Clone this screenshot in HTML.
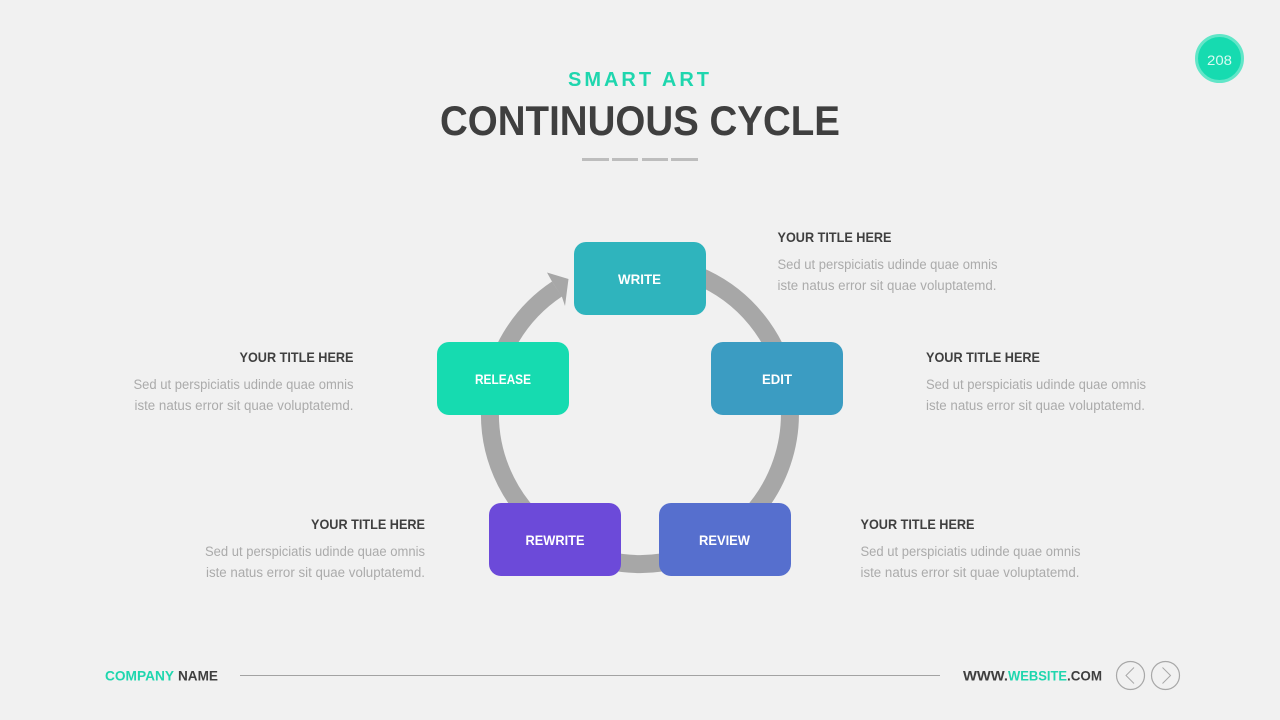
<!DOCTYPE html>
<html lang="en">
<head>
<meta charset="utf-8">
<title>Continuous Cycle</title>
<style>
html,body{margin:0;padding:0;background:#f1f1f1;width:1280px;height:720px;overflow:hidden}
svg{display:block}
text{font-family:"Liberation Sans",sans-serif}
.h{font-size:14px;font-weight:bold;fill:#3f3f3f}
.b{font-size:13.5px;fill:#ababab}
.n{font-size:14px;font-weight:bold;fill:#fff}
.f{font-size:14px;font-weight:bold;fill:#3f3f3f}
.g{fill:#1fd6ae}
</style>
</head>
<body>
<svg width="1280" height="720" viewBox="0 0 1280 720" xmlns="http://www.w3.org/2000/svg">
<rect width="1280" height="720" fill="#f1f1f1"/>

<circle cx="1219.5" cy="58.5" r="23" fill="#16dbb0" stroke="#62e6c8" stroke-width="3"/>
<text x="1219.5" y="65" text-anchor="middle" font-size="14" fill="#d8fbf2" textLength="25" lengthAdjust="spacingAndGlyphs">208</text>

<text x="568" y="86" font-size="20" font-weight="bold" class="g" textLength="141" lengthAdjust="spacing">SMART ART</text>
<text x="440" y="135" font-size="42" font-weight="bold" fill="#3f3f3f" textLength="400" lengthAdjust="spacingAndGlyphs">CONTINUOUS CYCLE</text>
<g fill="#bdbdbd">
<rect x="582" y="158" width="27" height="3"/>
<rect x="612" y="158" width="26" height="3"/>
<rect x="642" y="158" width="26" height="3"/>
<rect x="671" y="158" width="27" height="3"/>
</g>

<path d="M640 264 A150 150 0 1 1 557 289" fill="none" stroke="#a7a7a7" stroke-width="18"/>
<polygon points="568.5,279 547,272.5 552,281.5 562,297 565,306" fill="#a7a7a7"/>

<rect x="574" y="242" width="132" height="73" rx="12" fill="#2fb4bd"/>
<rect x="711" y="342" width="132" height="73" rx="12" fill="#3b9cc2"/>
<rect x="659" y="503" width="132" height="73" rx="12" fill="#566fce"/>
<rect x="489" y="503" width="132" height="73" rx="12" fill="#6c4ad9"/>
<rect x="437" y="342" width="132" height="73" rx="12" fill="#16dbb0"/>

<text class="n" x="618" y="284" textLength="43" lengthAdjust="spacingAndGlyphs">WRITE</text>
<text class="n" x="762" y="384" textLength="30" lengthAdjust="spacingAndGlyphs">EDIT</text>
<text class="n" x="699" y="545" textLength="51" lengthAdjust="spacingAndGlyphs">REVIEW</text>
<text class="n" x="525.5" y="545" textLength="59" lengthAdjust="spacingAndGlyphs">REWRITE</text>
<text class="n" x="475" y="384" textLength="56" lengthAdjust="spacingAndGlyphs">RELEASE</text>

<text class="h" x="777.5" y="242" textLength="114" lengthAdjust="spacingAndGlyphs">YOUR TITLE HERE</text>
<text class="b" x="777.5" y="269" textLength="220" lengthAdjust="spacingAndGlyphs">Sed ut perspiciatis udinde quae omnis</text>
<text class="b" x="777.5" y="290" textLength="219" lengthAdjust="spacingAndGlyphs">iste natus error sit quae voluptatemd.</text>

<text class="h" x="926" y="362" textLength="114" lengthAdjust="spacingAndGlyphs">YOUR TITLE HERE</text>
<text class="b" x="926" y="389" textLength="220" lengthAdjust="spacingAndGlyphs">Sed ut perspiciatis udinde quae omnis</text>
<text class="b" x="926" y="410" textLength="219" lengthAdjust="spacingAndGlyphs">iste natus error sit quae voluptatemd.</text>

<text class="h" x="860.5" y="529" textLength="114" lengthAdjust="spacingAndGlyphs">YOUR TITLE HERE</text>
<text class="b" x="860.5" y="556" textLength="220" lengthAdjust="spacingAndGlyphs">Sed ut perspiciatis udinde quae omnis</text>
<text class="b" x="860.5" y="577" textLength="219" lengthAdjust="spacingAndGlyphs">iste natus error sit quae voluptatemd.</text>

<text class="h" x="239.5" y="362" textLength="114" lengthAdjust="spacingAndGlyphs">YOUR TITLE HERE</text>
<text class="b" x="133.5" y="389" textLength="220" lengthAdjust="spacingAndGlyphs">Sed ut perspiciatis udinde quae omnis</text>
<text class="b" x="134.5" y="410" textLength="219" lengthAdjust="spacingAndGlyphs">iste natus error sit quae voluptatemd.</text>

<text class="h" x="311" y="529" textLength="114" lengthAdjust="spacingAndGlyphs">YOUR TITLE HERE</text>
<text class="b" x="205" y="556" textLength="220" lengthAdjust="spacingAndGlyphs">Sed ut perspiciatis udinde quae omnis</text>
<text class="b" x="206" y="577" textLength="219" lengthAdjust="spacingAndGlyphs">iste natus error sit quae voluptatemd.</text>

<text class="f g" x="105" y="680.5" textLength="69" lengthAdjust="spacingAndGlyphs" style="fill:#1fd6ae">COMPANY</text>
<text class="f" x="178" y="680.5" textLength="40" lengthAdjust="spacingAndGlyphs">NAME</text>
<rect x="240" y="675" width="700" height="1" fill="#a3a3a3"/>
<text class="f" x="963" y="680.5" textLength="45" lengthAdjust="spacingAndGlyphs">WWW.</text>
<text class="f" x="1008" y="680.5" textLength="59" lengthAdjust="spacingAndGlyphs" style="fill:#1fd6ae">WEBSITE</text>
<text class="f" x="1067" y="680.5" textLength="35" lengthAdjust="spacingAndGlyphs">.COM</text>

<g fill="none" stroke="#a8a8a8" stroke-width="1.2">
<circle cx="1130.5" cy="675.5" r="14"/>
<circle cx="1165.5" cy="675.5" r="14"/>
<polyline stroke-width="1" points="1134,667.5 1126,675.5 1134,683.5"/>
<polyline stroke-width="1" points="1162.5,667.5 1170.5,675.5 1162.5,683.5"/>
</g>
</svg>
</body>
</html>
